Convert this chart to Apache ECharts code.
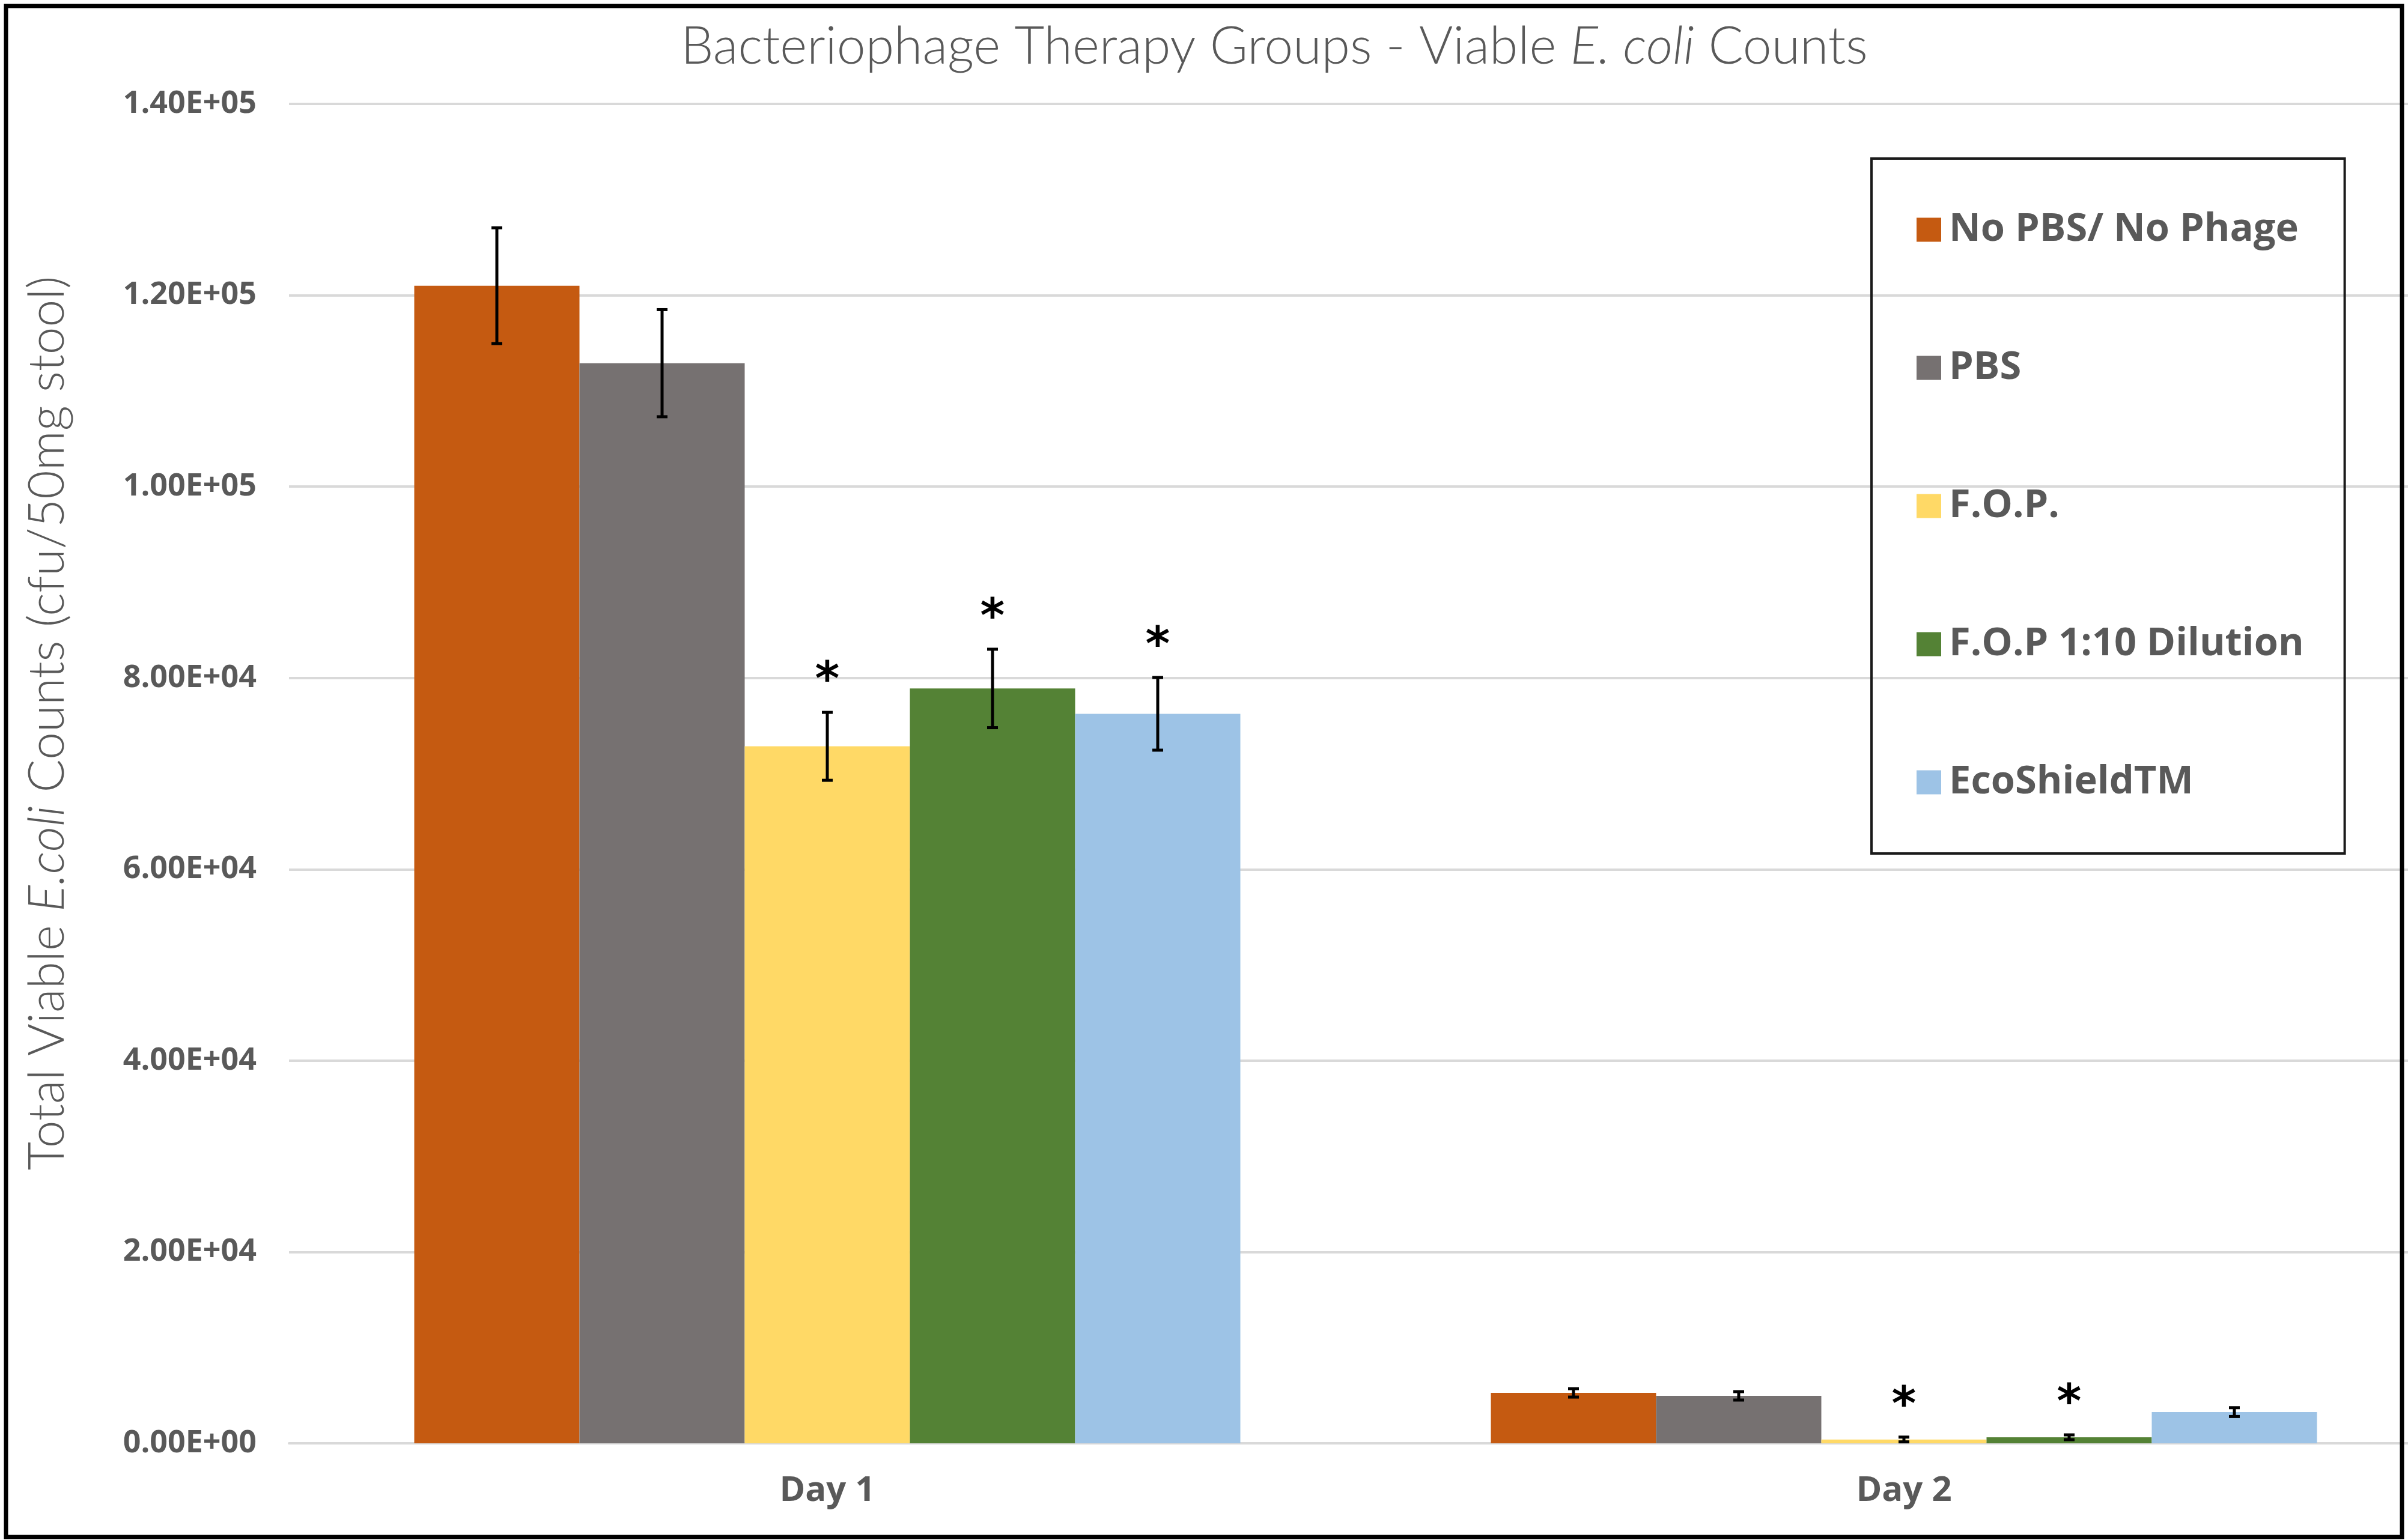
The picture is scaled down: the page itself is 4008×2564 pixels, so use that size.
<!DOCTYPE html>
<html>
<head>
<meta charset="utf-8">
<script src="https://cdn.jsdelivr.net/npm/echarts@6/dist/echarts.min.js"></script>
<style>
  html, body { margin: 0; padding: 0; background: #fff; }
  #chart { width: 4008px; height: 2564px; }
</style>
</head>
<body>
<div id="chart"></div>
<script>
// data
const days = ['Day 1', 'Day 2'];
const groups = ['No PBS/ No Phage', 'PBS', 'F.O.P.', 'F.O.P 1:10 Dilution', 'EcoShieldTM'];
const noPbs = [121000, 5270];
const pbs = [112900, 4960];
const fop = [72850, 400];
const fopDil = [78900, 630];
const ecoShield = [76250, 3260];
const noPbsErr = [6050, 440];
const pbsErr = [5600, 440];
const fopErr = [3550, 250];
const fopDilErr = [4100, 250];
const ecoShieldErr = [3800, 460];
// significance stars (1 = marked with *)
const noPbsSig = [0, 0];
const pbsSig = [0, 0];
const fopSig = [1, 1];
const fopDilSig = [1, 1];
const ecoShieldSig = [1, 0];
const yTickLabels = ['0.00E+00', '2.00E+04', '4.00E+04', '6.00E+04', '8.00E+04', '1.00E+05', '1.20E+05', '1.40E+05'];

const colors = ['#C55A11', '#767171', '#FFD966', '#548235', '#9DC3E6'];
const values = [noPbs, pbs, fop, fopDil, ecoShield];
const errs = [noPbsErr, pbsErr, fopErr, fopDilErr, ecoShieldErr];
const sigs = [noPbsSig, pbsSig, fopSig, fopDilSig, ecoShieldSig];

const BAR_W = 275;
const labelFont = '"Open Sans", "DejaVu Sans", sans-serif';
const lightFont = 'Lato, "Open Sans", sans-serif';

// error bar rows: [dayIndex, groupIndex, value, err, sig]
const errRows = [];
groups.forEach((g, k) => {
  days.forEach((d, i) => {
    errRows.push([i, k, values[k][i], errs[k][i], sigs[k][i]]);
  });
});

const chart = echarts.init(document.getElementById('chart'));

const barSeries = groups.map((g, k) => ({
  name: g,
  type: 'bar',
  data: values[k],
  barWidth: BAR_W,
  barGap: '0%',
  itemStyle: { color: colors[k] },
  z: 2
}));

const option = {
  animation: false,
  backgroundColor: '#fff',
  title: {
    text: '{n|Bacteriophage Therapy Groups - Viable }{i|E. coli}{n| Counts}',
    left: 2116,
    top: 30,
    textAlign: 'center',
    textStyle: {
      rich: {
        n: { fontFamily: lightFont, fontWeight: 300, fontSize: 86, color: '#595959' },
        i: { fontFamily: lightFont, fontWeight: 300, fontStyle: 'italic', fontSize: 86, color: '#595959' }
      }
    }
  },
  legend: {
    data: groups,
    orient: 'vertical',
    left: 3115,
    top: 264,
    padding: [86, 68, 86, 75],
    itemGap: 165,
    itemWidth: 41,
    itemHeight: 40,
    icon: 'rect',
    borderColor: '#1a1a1a',
    borderWidth: 4,
    textStyle: {
      fontFamily: labelFont,
      fontWeight: 700,
      fontSize: 65,
      color: '#595959',
      padding: [0, 0, 0, 8]
    }
  },
  grid: {
    left: 481,
    width: 3584,
    top: 173,
    bottom: 161,
    containLabel: false,
    outerBoundsMode: 'none'
  },
  xAxis: {
    type: 'category',
    data: days,
    axisTick: { show: false },
    axisLine: { lineStyle: { color: '#d9d9d9', width: 4 } },
    axisLabel: {
      margin: 50,
      fontFamily: labelFont,
      fontWeight: 700,
      fontSize: 58,
      color: '#595959'
    }
  },
  yAxis: {
    type: 'value',
    min: 0,
    max: 140000,
    interval: 20000,
    name: '{n|Total Viable }{i|E.coli}{n| Counts (cfu/50mg stool)}',
    nameLocation: 'middle',
    nameGap: 360,
    nameTextStyle: {
      padding: [0, 0, 0, 168],
      rich: {
        n: { fontFamily: lightFont, fontWeight: 300, fontSize: 82, color: '#595959' },
        i: { fontFamily: lightFont, fontWeight: 300, fontStyle: 'italic', fontSize: 82, color: '#595959' }
      }
    },
    axisLine: { show: false },
    axisTick: { show: false },
    splitLine: { lineStyle: { color: '#d9d9d9', width: 4 } },
    axisLabel: {
      margin: 54,
      fontFamily: labelFont,
      fontWeight: 700,
      fontSize: 52,
      color: '#595959',
      formatter: (v) => yTickLabels[Math.round(v / 20000)]
    }
  },
  series: barSeries.concat([{
    type: 'custom',
    z: 5,
    silent: true,
    data: errRows,
    encode: { x: 0, y: 2 },
    renderItem: (params, api) => {
      const day = api.value(0);
      const k = api.value(1);
      const v = api.value(2);
      const e = api.value(3);
      const sig = api.value(4);
      const center = api.coord([day, v]);
      const x = center[0] + (k - (groups.length - 1) / 2) * BAR_W;
      const top = api.coord([day, v + e])[1];
      const bot = api.coord([day, v - e])[1];
      const cap = 9;
      const st = { stroke: '#000', lineWidth: 5 };
      const children = [
        { type: 'line', shape: { x1: x, y1: top, x2: x, y2: bot }, style: st },
        { type: 'line', shape: { x1: x - cap, y1: top, x2: x + cap, y2: top }, style: st },
        { type: 'line', shape: { x1: x - cap, y1: bot, x2: x + cap, y2: bot }, style: st }
      ];
      if (sig) {
        children.push({
          type: 'text',
          style: {
            text: '*',
            x: x,
            y: top - 10,
            align: 'center',
            verticalAlign: 'bottom',
            fontFamily: '"DejaVu Sans", sans-serif',
            fontWeight: 700,
            fontSize: 78,
            fill: '#000'
          }
        });
      }
      return { type: 'group', children: children };
    }
  }]),
  graphic: [{
    type: 'rect',
    shape: { x: 10, y: 10, width: 3988, height: 2549 },
    style: { fill: 'none', stroke: '#000', lineWidth: 7 },
    z: 100
  }]
};

chart.setOption(option);
</script>
</body>
</html>
